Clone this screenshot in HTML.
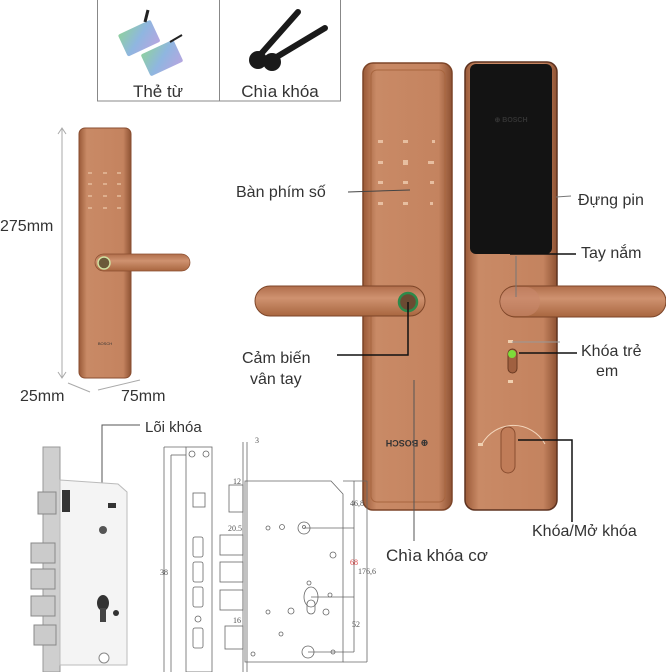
<!DOCTYPE html>
<html><head><meta charset="utf-8"><style>
html,body{margin:0;padding:0;background:#fff;}
svg{display:block;}
text{font-family:"Liberation Sans",sans-serif;fill:#333;}
</style></head><body>
<svg width="666" height="672" viewBox="0 0 666 672" xmlns="http://www.w3.org/2000/svg">
<defs>
<linearGradient id="cu" x1="0" x2="1" y1="0" y2="0">
<stop offset="0" stop-color="#9a5a38"/><stop offset="0.15" stop-color="#c98a66"/><stop offset="0.85" stop-color="#c4835f"/><stop offset="1" stop-color="#8e5233"/>
</linearGradient>
<linearGradient id="hd" x1="0" x2="0" y1="0" y2="1">
<stop offset="0" stop-color="#b06e4b"/><stop offset="0.4" stop-color="#cf9270"/><stop offset="1" stop-color="#a8663f"/>
</linearGradient>
<linearGradient id="card" x1="0" x2="1" y1="0" y2="1">
<stop offset="0" stop-color="#8fd0a0"/><stop offset="0.5" stop-color="#8fb6e0"/><stop offset="1" stop-color="#b6a6e0"/>
</linearGradient>
</defs>

<rect x="97.5" y="-1" width="243" height="102" fill="#fff" stroke="#888"/>
<line x1="219.5" y1="0" x2="219.5" y2="101" stroke="#888"/>
<g transform="rotate(-25 140 40)"><rect x="122" y="26" width="36" height="24" rx="2" fill="url(#card)"/></g>
<g transform="rotate(-25 162 58)"><rect x="144" y="46" width="36" height="24" rx="2" fill="url(#card)"/></g>
<line x1="145" y1="22" x2="148" y2="10" stroke="#222" stroke-width="3"/>
<line x1="170" y1="42" x2="182" y2="35" stroke="#222" stroke-width="2"/>
<text x="158" y="97" font-size="17" text-anchor="middle">Thẻ từ</text>
<line x1="260" y1="55" x2="298" y2="12" stroke="#1a1a1a" stroke-width="6" stroke-linecap="round"/>
<line x1="275" y1="58" x2="325" y2="28" stroke="#1a1a1a" stroke-width="6" stroke-linecap="round"/>
<circle cx="258" cy="60" r="9" fill="#1a1a1a"/><circle cx="272" cy="62" r="9" fill="#1a1a1a"/>
<text x="280" y="97" font-size="17" text-anchor="middle">Chìa khóa</text>

<line x1="62" y1="129" x2="62" y2="377" stroke="#aaa"/>
<path d="M58 134 L62 128 L66 134 M58 372 L62 378 L66 372" fill="none" stroke="#aaa"/>
<text x="0" y="231" font-size="16" fill="#444">275mm</text>
<rect x="79" y="128" width="52" height="250" rx="6" fill="url(#cu)" stroke="#8a4e30"/>
<g fill="#e8c0a0" opacity="0.7">
<rect x="88" y="172" width="4" height="2"/><rect x="103" y="172" width="4" height="2"/><rect x="117" y="172" width="4" height="2"/>
<rect x="88" y="183" width="4" height="2"/><rect x="103" y="183" width="4" height="2"/><rect x="117" y="183" width="4" height="2"/>
<rect x="88" y="195" width="4" height="2"/><rect x="103" y="195" width="4" height="2"/><rect x="117" y="195" width="4" height="2"/>
<rect x="88" y="207" width="4" height="2"/><rect x="103" y="207" width="4" height="2"/><rect x="117" y="207" width="4" height="2"/>
</g>
<rect x="95" y="254" width="95" height="17" rx="8.5" fill="url(#hd)" stroke="#8a4e30" stroke-width="0.7"/>
<circle cx="104" cy="263" r="6" fill="#6b5a3a" stroke="#cfe0a0" stroke-width="1.5"/>
<text x="105" y="345" font-size="4" fill="#eee" text-anchor="middle">BOSCH</text>
<line x1="68" y1="383" x2="90" y2="392" stroke="#aaa"/>
<line x1="98" y1="390" x2="140" y2="380" stroke="#aaa"/>
<text x="20" y="401" font-size="16" fill="#444">25mm</text>
<text x="121" y="401" font-size="16" fill="#444">75mm</text>

<rect x="363" y="63" width="89" height="447" rx="10" fill="url(#cu)" stroke="#7d4528" stroke-width="1.5"/>
<rect x="371" y="70" width="74" height="432" rx="6" fill="none" stroke="#a8663f" stroke-width="1"/>
<g fill="#f0cdb0" opacity="0.8">
<rect x="378" y="140" width="5" height="3"/><rect x="403" y="140" width="5" height="3"/><rect x="432" y="140" width="3" height="3"/>
<rect x="378" y="161" width="5" height="3"/><rect x="403" y="160" width="5" height="5"/><rect x="428" y="161" width="6" height="3"/>
<rect x="378" y="181" width="5" height="3"/><rect x="403" y="181" width="5" height="3"/><rect x="430" y="181" width="4" height="3"/>
<rect x="378" y="202" width="5" height="3"/><rect x="403" y="202" width="5" height="3"/><rect x="430" y="202" width="3" height="3"/>
</g>
<rect x="255" y="286" width="170" height="30" rx="15" fill="url(#hd)" stroke="#7d4528" stroke-width="1"/>
<circle cx="408" cy="302" r="9" fill="#6a4a32" stroke="#2d8a4a" stroke-width="2.5"/>
<text x="407" y="446" font-size="9" font-weight="bold" fill="#f6e2d0" text-anchor="middle" transform="rotate(180 407 443)">⊕ BOSCH</text>

<rect x="465" y="62" width="92" height="448" rx="10" fill="url(#cu)" stroke="#5e3320" stroke-width="1.5"/>
<rect x="470" y="64" width="82" height="190" rx="6" fill="#131313"/>
<text x="511" y="122" font-size="7" fill="#ddd" text-anchor="middle" font-weight="bold">⊕ BOSCH</text>
<rect x="500" y="286" width="166" height="31" rx="15.5" fill="url(#hd)" stroke="#7d4528" stroke-width="1"/>
<rect x="500" y="287" width="40" height="29" rx="14.5" fill="#c8876a" opacity="0.6"/>
<rect x="508" y="349" width="9" height="24" rx="4.5" fill="#a06040" stroke="#6a3a22"/>
<circle cx="512" cy="354" r="4" fill="#7ddc3a"/>
<rect x="508" y="340" width="5" height="3" fill="#f0d0b0"/><rect x="508" y="380" width="5" height="3" fill="#f0d0b0"/>
<path d="M482 444 A36 36 0 0 1 545 444" fill="none" stroke="#f3d6bc" stroke-width="1"/>
<rect x="501" y="427" width="14" height="46" rx="7" fill="#c07c58" stroke="#8a4e30"/>
<rect x="478" y="443" width="5" height="3" fill="#f0d0b0"/>

<g stroke="#111" stroke-width="1.5" fill="none">
<line x1="348" y1="192" x2="410" y2="190" stroke="#444" stroke-width="1"/>
<polyline points="337,355 408,355 408,302"/>
<line x1="414" y1="380" x2="414" y2="541" stroke="#555" stroke-width="1"/>
<line x1="556" y1="197" x2="571" y2="196" stroke="#777" stroke-width="1"/>
<line x1="510" y1="254" x2="576" y2="254"/>
<line x1="516" y1="256" x2="516" y2="297" stroke="#777" stroke-width="1"/>
<line x1="512" y1="342" x2="560" y2="342" stroke="#999" stroke-width="1"/>
<line x1="519" y1="353" x2="577" y2="353"/>
<polyline points="518,440 572,440 572,522"/>
</g>
<text x="236" y="197" font-size="16">Bàn phím số</text>
<text x="242" y="363" font-size="16">Cảm biến</text>
<text x="250" y="384" font-size="16">vân tay</text>
<text x="386" y="561" font-size="17">Chìa khóa cơ</text>
<text x="578" y="205" font-size="16">Đựng pin</text>
<text x="581" y="258" font-size="16">Tay nắm</text>
<text x="581" y="356" font-size="16">Khóa trẻ</text>
<text x="596" y="376" font-size="16">em</text>
<text x="532" y="536" font-size="16">Khóa/Mở khóa</text>

<polyline points="102,485 102,425 140,425" fill="none" stroke="#555" stroke-width="1"/>
<text x="145" y="432" font-size="15" fill="#555">Lõi khóa</text>
<rect x="43" y="447" width="17" height="225" fill="#cfcfcf" stroke="#999"/>
<path d="M60 480 L118 484 L127 492 L127 665 L60 665 Z" fill="#f4f4f4" stroke="#bbb"/>
<rect x="38" y="492" width="18" height="22" fill="#c6c6c6" stroke="#888"/>
<rect x="31" y="543" width="24" height="20" fill="#cbcbcb" stroke="#888"/>
<rect x="31" y="569" width="24" height="20" fill="#cbcbcb" stroke="#888"/>
<rect x="31" y="596" width="24" height="20" fill="#cbcbcb" stroke="#888"/>
<rect x="34" y="625" width="22" height="20" fill="#cbcbcb" stroke="#888"/>
<rect x="62" y="490" width="8" height="22" fill="#333"/>
<rect x="108" y="503" width="8" height="5" fill="#333"/>
<circle cx="103" cy="530" r="4" fill="#555"/>
<ellipse cx="103" cy="603" rx="6" ry="8" fill="#333"/>
<rect x="100" y="608" width="6" height="14" fill="#444"/>
<circle cx="116" cy="613" r="3" fill="#333"/>
<circle cx="104" cy="658" r="5" fill="#fff" stroke="#888"/>

<g stroke="#666" stroke-width="0.8" fill="none">
<line x1="164" y1="447" x2="164" y2="672"/><line x1="171" y1="455" x2="171" y2="672"/>
<line x1="164" y1="447" x2="186" y2="447"/><line x1="171" y1="455" x2="186" y2="455"/>
<rect x="186" y="447" width="26" height="225"/>
<circle cx="192" cy="454" r="3"/><circle cx="206" cy="454" r="3"/>
<rect x="193" y="493" width="12" height="14"/>
<rect x="193" y="537" width="10" height="20" rx="2"/><rect x="193" y="562" width="10" height="20" rx="2"/><rect x="193" y="587" width="10" height="20" rx="2"/>
<circle cx="198" cy="619" r="3"/>
<rect x="193" y="628" width="10" height="20" rx="2"/>
<line x1="243" y1="442" x2="243" y2="672"/><line x1="247" y1="442" x2="247" y2="672"/>
<path d="M245 481 L331 481 L343 494 L343 662 L245 662 Z"/>
<rect x="229" y="485" width="14" height="27"/>
<rect x="220" y="535" width="23" height="20"/><rect x="220" y="562" width="23" height="20"/><rect x="220" y="590" width="23" height="20"/>
<rect x="225" y="626" width="18" height="23"/>
<circle cx="304" cy="528" r="6"/><circle cx="304" cy="527" r="1.5"/>
<circle cx="268" cy="528" r="2"/><circle cx="282" cy="527" r="2.5"/>
<ellipse cx="311" cy="597" rx="7" ry="10"/><rect x="307" y="600" width="8" height="14" rx="4"/>
<circle cx="308" cy="652" r="6"/>
<circle cx="333" cy="555" r="3"/><circle cx="309" cy="583" r="2"/><circle cx="330" cy="595" r="2"/>
<circle cx="291" cy="611" r="3"/><circle cx="326" cy="612" r="3"/><circle cx="268" cy="612" r="2"/>
<circle cx="253" cy="654" r="2"/><circle cx="333" cy="652" r="2"/><circle cx="281" cy="634" r="2"/>
<line x1="304" y1="528" x2="354" y2="528"/><line x1="311" y1="597" x2="354" y2="597"/><line x1="308" y1="652" x2="354" y2="652"/>
<line x1="354" y1="481" x2="354" y2="652"/><line x1="343" y1="481" x2="367" y2="481"/>
<line x1="367" y1="481" x2="367" y2="662"/><line x1="343" y1="662" x2="367" y2="662"/>
</g>
<g>
<text x="255" y="443" style="font-family:'Liberation Serif',serif;font-size:8px;fill:#555">3</text>
<text x="233" y="484" style="font-family:'Liberation Serif',serif;font-size:8px;fill:#555">12</text>
<text x="228" y="531" style="font-family:'Liberation Serif',serif;font-size:8px;fill:#555">20.5</text>
<text x="233" y="623" style="font-family:'Liberation Serif',serif;font-size:8px;fill:#555">16</text>
<text x="350" y="506" style="font-family:'Liberation Serif',serif;font-size:8px;fill:#555">46,8</text>
<text x="350" y="565" style="font-family:'Liberation Serif',serif;font-size:8px;fill:#d44">68</text>
<text x="358" y="574" style="font-family:'Liberation Serif',serif;font-size:8px;fill:#555">176,6</text>
<text x="352" y="627" style="font-family:'Liberation Serif',serif;font-size:8px;fill:#555">52</text>
<text x="160" y="575" style="font-family:'Liberation Serif',serif;font-size:8px;fill:#555">38</text>
</g>
</svg>
</body></html>
